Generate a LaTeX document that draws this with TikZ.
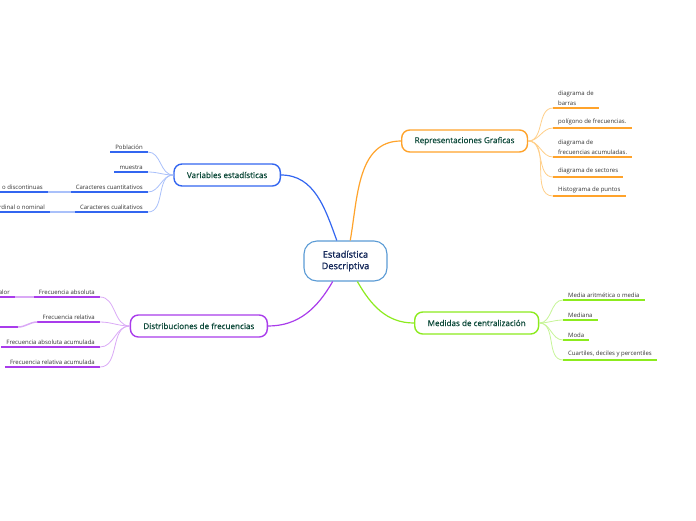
\documentclass[tikz,border=0pt]{standalone}
\usepackage{fontspec}
\setmainfont{Open Sans}
\newfontfamily\topicfont{Open Sans}[FakeBold=0.6]
\newfontfamily\centerfont{Open Sans}[FakeBold=1.4]
\usepackage{tikz}
\usetikzlibrary{positioning}
\definecolor{MapNavy}{HTML}{14285A}
\definecolor{MapTeal}{HTML}{0E4A3A}
\definecolor{MapText}{HTML}{333333}
\definecolor{MapCenter}{HTML}{5B9BD5}
\definecolor{MapBlue}{HTML}{3366F0}
\definecolor{MapBlueLight}{HTML}{A9C0FA}
\definecolor{MapOrange}{HTML}{FFA32B}
\definecolor{MapOrangeLight}{HTML}{FFCF8A}
\definecolor{MapGreen}{HTML}{8CEB1E}
\definecolor{MapGreenLight}{HTML}{C6F497}
\definecolor{MapPurple}{HTML}{A93CEB}
\definecolor{MapPurpleLight}{HTML}{DAA9F6}
\tikzset{
    % Central topic
    centernode/.style={
        draw=MapCenter,
        fill=white,
        line width=1.1pt,
        rounded corners=13pt,
        minimum width=83pt,
        minimum height=40pt,
        align=center,
        text=MapNavy,
        font=\centerfont\fontsize{9.2}{11.5}\selectfont
    },
    % Main topic
    topicnode/.style={
        draw=#1,
        fill=white,
        line width=1.4pt,
        rounded corners=8pt,
        minimum height=22pt,
        inner xsep=13pt,
        text=MapTeal,
        font=\topicfont\fontsize{8.1}{9}\selectfont
    },
    % Leaf, underlined
    leafnode/.style={
        inner xsep=5pt,
        inner ysep=2.5pt,
        align=left,
        text=MapText,
        font=\fontsize{6.0}{9.5}\selectfont,
        append after command={
            (\tikzlastnode.south west) edge[draw=#1, line width=1.5pt] (\tikzlastnode.south east)
        }
    },
    % Branch from the centre
    branch/.style={
        draw=#1,
        line width=1.2pt
    },
    % Thin link to a leaf
    twig/.style={
        draw=#1,
        line width=0.8pt
    },
    % Link between two leaves
    leaflink/.style={
        draw=#1,
        line width=1.5pt
    }
}
\begin{document}
\begin{tikzpicture}[x=1pt,y=-1pt]
    \useasboundingbox (0,0) rectangle (696,520);
    \clip (0,0) rectangle (696,520);
    % centre and main topics
    \node[centernode] (est) at (345.5,261) {Estadística\\Descriptiva};
    \node[topicnode=MapOrange,anchor=west] (rep) at (401,141) {Representaciones Graficas};
    \node[topicnode=MapGreen,anchor=west] (med) at (414,323) {Medidas de centralización};
    \node[topicnode=MapBlue,anchor=east] (var) at (281,175) {Variables estadísticas};
    \node[topicnode=MapPurple,anchor=east] (dist) at (268,326) {Distribuciones de frecuencias};
    \draw[branch=MapBlue] (est.113) to[out=110,in=0] (var.east);
    \draw[branch=MapOrange] (est.77) to[out=80,in=180] (rep.west);
    \draw[branch=MapPurple] (est.238) to[out=240,in=0] (dist.east);
    \draw[branch=MapGreen] (est.300) to[out=300,in=180] (med.west);

    % Representaciones Graficas
    \node[leafnode=MapOrange,anchor=south west,text width=36pt] (r1) at (553,108) {diagrama de\\barras};
    \node[leafnode=MapOrange,anchor=south west] (r2) at (553,128) {polígono de frecuencias.};
    \node[leafnode=MapOrange,anchor=south west] (r3) at (553,157) {diagrama de\\frecuencias acumuladas.};
    \node[leafnode=MapOrange,anchor=south west] (r4) at (553,177) {diagrama de sectores};
    \node[leafnode=MapOrange,anchor=south west] (r5) at (553,196) {Histograma de puntos};
    \foreach \n in {r1,r2,r3,r4,r5}
        \draw[twig=MapOrangeLight] (rep.east) to[out=0,in=180] (\n.south west);

    % Medidas de centralizacion
    \node[leafnode=MapGreen,anchor=south west] (g1) at (563,300) {Media aritmética o media};
    \node[leafnode=MapGreen,anchor=south west] (g2) at (563,320) {Mediana};
    \node[leafnode=MapGreen,anchor=south west] (g3) at (563,340) {Moda};
    \node[leafnode=MapGreen,anchor=south west] (g4) at (563,360) {Cuartiles, deciles y percentiles};
    \foreach \n in {g1,g2,g3,g4}
        \draw[twig=MapGreenLight] (med.east) to[out=0,in=180] (\n.south west);

    % Variables estadisticas
    \node[leafnode=MapBlue,anchor=south east] (b1) at (148,152) {Población};
    \node[leafnode=MapBlue,anchor=south east] (b2) at (148,172) {muestra};
    \node[leafnode=MapBlue,anchor=south east] (b3) at (148,192) {Caracteres cuantitativos};
    \node[leafnode=MapBlue,anchor=south east] (b4) at (148,212) {Caracteres cualitativos};
    \foreach \n in {b1,b2,b3,b4}
        \draw[twig=MapBlueLight] (var.west) to[out=180,in=0] (\n.south east);
    \node[leafnode=MapBlue,anchor=south east] (b3a) at (48,192) {o discontinuas};
    \node[leafnode=MapBlue,anchor=south east] (b4a) at (50,212) {ordinal o nominal};
    \draw[leaflink=MapBlueLight] (b3.south west) -- (b3a.south east);
    \draw[leaflink=MapBlueLight] (b4.south west) -- (b4a.south east);

    % Distribuciones de frecuencias
    \node[leafnode=MapPurple,anchor=south east] (p1) at (100,297) {Frecuencia absoluta};
    \node[leafnode=MapPurple,anchor=south east] (p2) at (100,322) {Frecuencia relativa};
    \node[leafnode=MapPurple,anchor=south east] (p3) at (100,347) {Frecuencia absoluta acumulada};
    \node[leafnode=MapPurple,anchor=south east] (p4) at (100,367) {Frecuencia relativa acumulada};
    \foreach \n in {p1,p2,p3,p4}
        \draw[twig=MapPurpleLight] (dist.west) to[out=180,in=0] (\n.south east);
    \node[leafnode=MapPurple,anchor=south east] (p1a) at (15,297) {alor};
    \node[leafnode=MapPurple,anchor=south east,minimum width=30pt] (p2a) at (18,327) {};
    \draw[leaflink=MapPurpleLight] (p1.south west) -- (p1a.south east);
    \draw[leaflink=MapPurpleLight] (p2.south west) to[out=180,in=0] (p2a.south east);
\end{tikzpicture}
\end{document}
